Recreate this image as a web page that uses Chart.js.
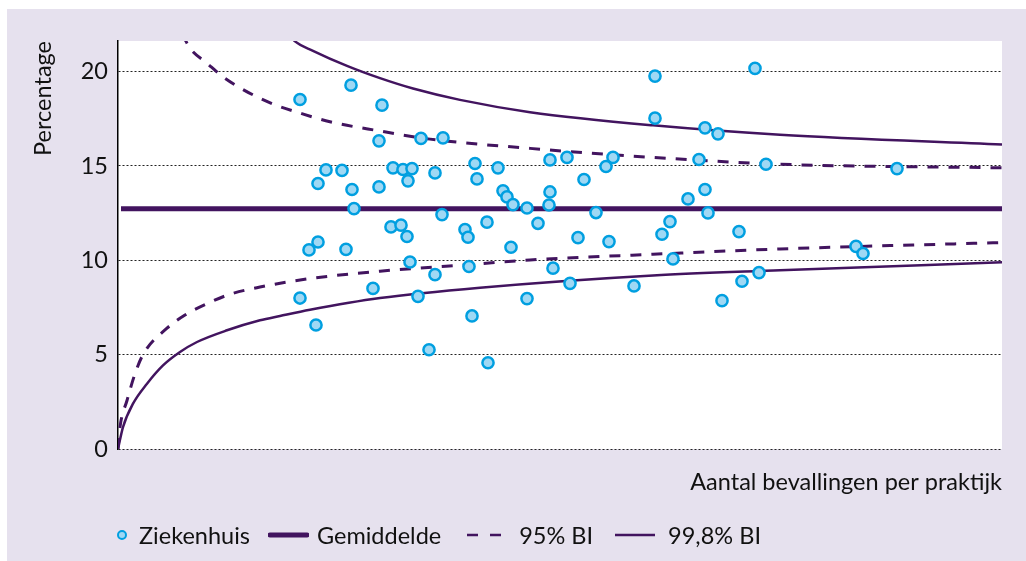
<!DOCTYPE html>
<html lang="nl">
<head>
<meta charset="utf-8">
<title>Ziekenhuis - percentage per praktijk</title>
<script src="https://cdn.jsdelivr.net/npm/chart.js@4.4.1/dist/chart.umd.min.js"></script>
<style>
    html, body {
        margin: 0;
        padding: 0;
        background: #ffffff;
        width: 1026px;
        height: 561px;
        overflow: hidden;
    }
    #panel {
        position: absolute;
        left: 7px;
        top: 9px;
        width: 1019px;
        height: 552px;
        background: #e6e1ee;
    }
    #chart {
        position: absolute;
        left: 0;
        top: 0;
    }
    #legend {
        position: absolute;
        left: 110px;
        top: 512px;
        display: flex;
        align-items: center;
        font-family: Lato, 'Open Sans', sans-serif;
        font-size: 23.5px;
        line-height: 28px;
        color: #111111;
        white-space: nowrap;
    }
    #legend .item {
        display: flex;
        align-items: center;
    }
    #legend svg {
        display: block;
    }
</style>
</head>
<body>
<div id="panel">
    <canvas id="chart" width="1019" height="552"></canvas>
    <div id="legend"></div>
</div>
<script>
// Series labels
const seriesLabels = ['Ziekenhuis', 'Gemiddelde', '95% BI', '99,8% BI'];

// Ziekenhuis: one point per praktijk (x = aantal bevallingen, y = percentage)
const hospitalX = [233, 182, 264, 261, 303, 325, 208, 224, 200, 234, 261, 275, 285, 294, 290, 317,
    357, 380, 359, 385, 389, 395, 409, 236, 324, 273, 283, 289, 347, 350, 369, 200,
    191, 228, 393, 292, 351, 317, 255, 182, 300, 409, 198, 354, 311, 370,
    537, 637, 537, 587, 600, 432, 449, 495, 488, 581, 648, 466, 432, 431, 420, 478,
    570, 587, 590, 552, 544, 460, 491, 621, 555, 435, 452, 516, 624, 641, 604,
    779, 738, 745];
const hospitalY = [19.28, 18.52, 18.22, 16.33, 16.46, 16.49, 14.79, 14.76, 14.07, 13.75, 13.89, 14.90, 14.81, 14.86, 14.21, 14.63,
    15.13, 14.90, 14.31, 13.68, 13.36, 12.95, 12.77, 12.74, 12.42, 11.77, 11.86, 11.26, 11.63, 11.22, 12.02, 10.97,
    10.55, 10.58, 10.69, 9.91, 9.67, 9.24, 8.51, 8.00, 8.09, 7.97, 6.57, 7.05, 5.26, 4.57,
    19.76, 20.17, 17.53, 17.02, 16.70, 15.32, 15.45, 15.45, 14.97, 15.34, 15.09, 14.28, 13.62, 12.93, 11.96, 12.53,
    13.25, 13.75, 12.51, 12.05, 11.38, 11.20, 10.99, 11.52, 10.07, 9.58, 8.78, 8.64, 8.89, 9.35, 7.86,
    14.86, 10.74, 10.36];

// Gemiddelde
const meanX = [3, 884];
const meanY = [12.73, 12.73];

// 95% BI
const ci95UpperX = [64, 68, 72, 89, 105, 122, 139, 159, 179, 212, 262, 312, 412, 535, 662, 884];
const ci95UpperY = [22.0, 21.6, 21.23, 20.44, 19.72, 19.14, 18.66, 18.2, 17.85, 17.34, 16.85, 16.42, 15.93, 15.45, 15.09, 14.90];
const ci95LowerX = [0, 2, 9, 17, 25, 49, 67, 89, 112, 142, 192, 262, 362, 412, 535, 662, 884];
const ci95LowerY = [0, 1.16, 2.57, 3.99, 5.0, 6.4, 7.1, 7.7, 8.2, 8.58, 9.03, 9.42, 9.82, 10.02, 10.32, 10.6, 10.94];

// 99,8% BI
const ci998UpperX = [172, 177, 195, 229, 262, 295, 342, 412, 535, 662, 884];
const ci998UpperY = [21.9, 21.6, 21.1, 20.3, 19.65, 19.1, 18.5, 17.85, 17.15, 16.65, 16.13];
const ci998LowerX = [0, 5, 15, 29, 45, 62, 79, 109, 142, 162, 192, 262, 362, 535, 662, 884];
const ci998LowerY = [0, 1.16, 2.40, 3.46, 4.43, 5.14, 5.67, 6.29, 6.82, 7.05, 7.38, 8.0, 8.55, 9.2, 9.47, 9.89];

// Axis
const yTicks = [0, 5, 10, 15, 20];
const xTitle = 'Aantal bevallingen per praktijk';
const yTitle = 'Percentage';

const PURPLE = '#42145f';
const FONT = 'Lato';
const FONT_SIZE = 23.5;

const toPoints = (xs, ys) => xs.map((x, i) => ({ x: x, y: ys[i] }));

// White plotting area on the lavender panel
const plotBackground = {
    id: 'plotBackground',
    beforeDraw(chart) {
        const { ctx, chartArea } = chart;
        ctx.save();
        ctx.fillStyle = '#ffffff';
        ctx.fillRect(chartArea.left, chartArea.top, chartArea.right - chartArea.left, chartArea.bottom - chartArea.top);
        ctx.restore();
    }
};

function curve(label, xs, ys, width, dash) {
    return {
        type: 'line',
        label: label,
        data: toPoints(xs, ys),
        borderColor: PURPLE,
        borderWidth: width,
        borderDash: dash,
        pointRadius: 0,
        fill: false,
        cubicInterpolationMode: 'monotone',
        order: 2
    };
}

const datasets = [
    {
        type: 'scatter',
        label: seriesLabels[0],
        data: toPoints(hospitalX, hospitalY),
        backgroundColor: '#9fd8f4',
        borderColor: '#009fe0',
        borderWidth: 2.5,
        pointRadius: 5.6,
        order: 0
    },
    curve(seriesLabels[1], meanX, meanY, 5, []),
    curve(seriesLabels[2], ci95UpperX, ci95UpperY, 3, [11, 10]),
    curve(seriesLabels[2], ci95LowerX, ci95LowerY, 3, [11, 10]),
    curve(seriesLabels[3], ci998UpperX, ci998UpperY, 2.5, []),
    curve(seriesLabels[3], ci998LowerX, ci998LowerY, 2.5, [])
];

const chart = new Chart(document.getElementById('chart'), {
    type: 'scatter',
    data: { datasets: datasets },
    options: {
        responsive: false,
        animation: false,
        events: [],
        layout: {
            padding: { left: 0, top: 32, right: 24, bottom: 64 }
        },
        plugins: {
            legend: { display: false },
            tooltip: { enabled: false }
        },
        scales: {
            x: {
                type: 'linear',
                min: 0,
                max: 884,
                grid: { display: false },
                border: { display: false },
                ticks: { display: false },
                title: {
                    display: true,
                    text: xTitle,
                    align: 'end',
                    color: '#111111',
                    font: { family: FONT, size: FONT_SIZE },
                    padding: 0
                },
                afterFit: scale => { scale.height = 48; }
            },
            y: {
                type: 'linear',
                min: 0,
                max: 21.62,
                afterBuildTicks: scale => {
                    scale.ticks = yTicks.map(v => ({ value: v }));
                },
                grid: {
                    color: '#222222',
                    lineWidth: 1,
                    drawTicks: false
                },
                border: {
                    display: true,
                    color: '#000000',
                    width: 1.5,
                    dash: [2, 2]
                },
                ticks: {
                    color: '#111111',
                    padding: 10,
                    font: { family: FONT, size: FONT_SIZE }
                },
                title: {
                    display: true,
                    text: yTitle,
                    align: 'end',
                    color: '#111111',
                    font: { family: FONT, size: FONT_SIZE },
                    padding: { top: 22 }
                },
                afterFit: scale => { scale.width = 111; }
            }
        }
    },
    plugins: [plotBackground]
});

// HTML legend
const legendItems = [
    { label: seriesLabels[0], svg: '<svg width="10" height="28"><circle cx="5" cy="14" r="4" fill="#9fd8f4" stroke="#009fe0" stroke-width="2"/></svg>', gap: 12, after: 18 },
    { label: seriesLabels[1], svg: '<svg width="41" height="28"><line x1="2" y1="14" x2="39" y2="14" stroke="' + PURPLE + '" stroke-width="5" stroke-linecap="round"/></svg>', gap: 8, after: 26 },
    { label: seriesLabels[2], svg: '<svg width="35" height="28"><line x1="0" y1="14" x2="35" y2="14" stroke="' + PURPLE + '" stroke-width="2.6" stroke-dasharray="11 12"/></svg>', gap: 17, after: 22 },
    { label: seriesLabels[3], svg: '<svg width="40" height="28"><line x1="0" y1="14" x2="40" y2="14" stroke="' + PURPLE + '" stroke-width="2.6"/></svg>', gap: 13, after: 0 }
];

const legendEl = document.getElementById('legend');
legendItems.forEach(item => {
    const el = document.createElement('div');
    el.className = 'item';
    el.style.marginRight = item.after + 'px';
    el.innerHTML = item.svg + '<span style="margin-left:' + item.gap + 'px">' + item.label + '</span>';
    legendEl.appendChild(el);
});
</script>
</body>
</html>
